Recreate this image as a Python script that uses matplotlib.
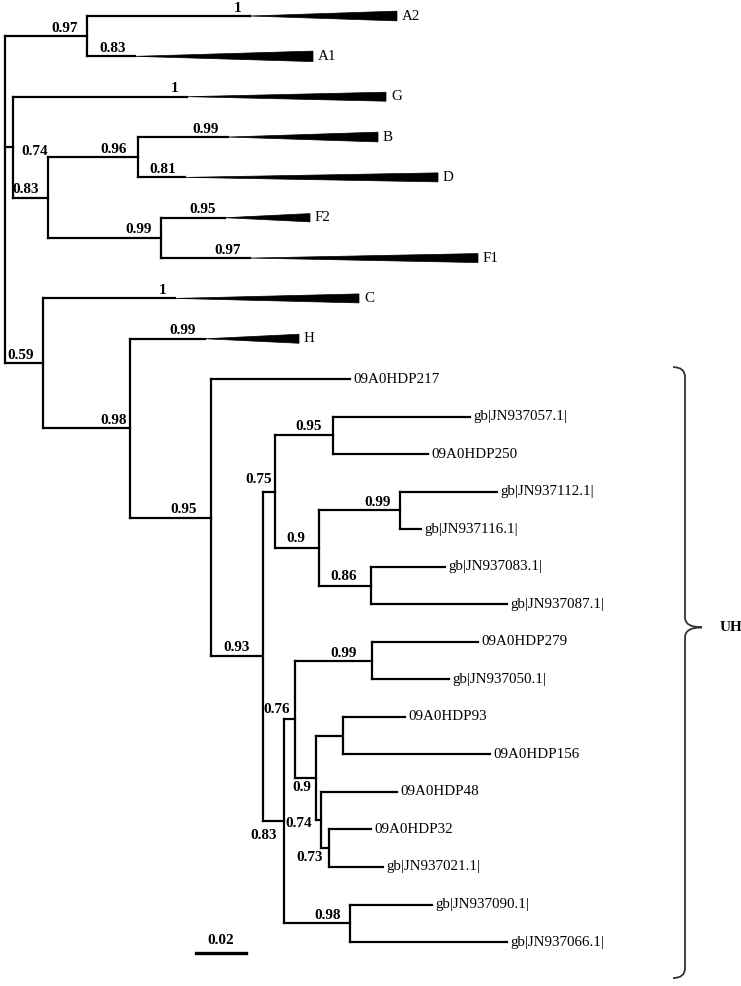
import matplotlib
matplotlib.use("Agg")
import matplotlib.pyplot as plt
from matplotlib.patches import Polygon, PathPatch
from matplotlib.path import Path

# ---- tree data (top-to-bottom order) ----
node_names = [
    "root", "nA", "A2", "A1", "nGBDF", "G", "nBDF", "nBD", "B", "D", "nF", "F2", "F1",
    "n059", "C", "n098", "H", "nUH", "09A0HDP217", "n093", "n075", "n095",
    "gb|JN937057.1|", "09A0HDP250", "n090", "n099a", "gb|JN937112.1|", "gb|JN937116.1|",
    "n086", "gb|JN937083.1|", "gb|JN937087.1|", "n083", "n076", "n099b", "09A0HDP279",
    "gb|JN937050.1|", "n09", "n93_156", "09A0HDP93", "09A0HDP156", "n074", "09A0HDP48",
    "n073", "09A0HDP32", "gb|JN937021.1|", "n098b", "gb|JN937090.1|", "gb|JN937066.1|",
]
node_parents = [
    None, "root", "nA", "nA", "root", "nGBDF", "nGBDF", "nBDF", "nBD", "nBD", "nBDF", "nF", "nF",
    "root", "n059", "n059", "n098", "n098", "nUH", "nUH", "n093", "n075",
    "n095", "n095", "n075", "n090", "n099a", "n099a",
    "n090", "n086", "n086", "n093", "n083", "n076", "n099b",
    "n099b", "n076", "n09", "n93_156", "n93_156", "n09", "n074",
    "n074", "n073", "n073", "n083", "n098b", "n098b",
]
branch_lengths = [
    0.0, 0.0328, 0.0652, 0.0192, 0.0032, 0.0696, 0.0140, 0.0360, 0.0360, 0.0188, 0.0452, 0.0256, 0.0356,
    0.0152, 0.0528, 0.0348, 0.0300, 0.0324, 0.0556, 0.0208, 0.0048, 0.0232,
    0.0548, 0.0380, 0.0176, 0.0324, 0.0388, 0.0084,
    0.0208, 0.0296, 0.0544, 0.0084, 0.0044, 0.0308, 0.0424,
    0.0308, 0.0084, 0.0108, 0.0248, 0.0588, 0.0020, 0.0304,
    0.0032, 0.0168, 0.0216, 0.0264, 0.0328, 0.0628,
]
supports = [
    "", "0.97", "1", "0.83", "0.74", "1", "0.83", "0.96", "0.99", "0.81", "0.99", "0.95", "0.97",
    "0.59", "1", "0.98", "0.99", "0.95", "", "0.93", "0.75", "0.95",
    "", "", "0.9", "0.99", "", "",
    "0.86", "", "", "0.83", "0.76", "0.99", "",
    "", "0.9", "", "", "", "0.74", "",
    "0.73", "", "", "0.98", "", "",
]

# collapsed clades: depth of triangle, half height (rows)
clade_names = ["A2", "A1", "G", "B", "D", "F2", "F1", "C", "H"]
clade_depths = [0.0588, 0.0712, 0.0796, 0.0600, 0.1012, 0.0340, 0.0912, 0.0736, 0.0376]
clade_halfwidths = [0.13, 0.14, 0.12, 0.13, 0.12, 0.11, 0.12, 0.12, 0.12]

bracket_label = "UH"
bracket_root = "nUH"
scale_length = 0.02

# ---- layout ----
PX_X = 0.0004          # tree units per pixel
PX_Y = 1 / 37.53       # rows per pixel
CLADE_ROW = 1.075      # rows taken by a collapsed clade

children = {n: [] for n in node_names}
for n, p in zip(node_names, node_parents):
    if p is not None:
        children[p].append(n)
blen = dict(zip(node_names, branch_lengths))
supp = dict(zip(node_names, supports))
clades = {c: (d, w) for c, d, w in zip(clade_names, clade_depths, clade_halfwidths)}

xpos, ypos = {}, {}
cursor = [0.0]


def layout(node, x):
    xpos[node] = x
    kids = children[node]
    if not kids:
        ypos[node] = cursor[0]
        cursor[0] += CLADE_ROW if node in clades else 1.0
        return
    for k in kids:
        layout(k, x + blen[k])
    ypos[node] = (ypos[kids[0]] + ypos[kids[-1]]) / 2


layout("root", 0.0)

fig = plt.figure(figsize=(7.41, 9.86), dpi=100)
ax = fig.add_axes([0, 0, 1, 1])
ax.set_xlim(-5 * PX_X, 736 * PX_X)
ax.set_ylim(970 * PX_Y, -16 * PX_Y)
ax.axis("off")

serif = "Liberation Serif"
lw = 1.6

for n, p in zip(node_names, node_parents):
    if p is not None:
        ax.plot([xpos[p], xpos[n]], [ypos[n], ypos[n]], color="black", lw=lw,
                solid_capstyle="projecting")
    kids = children[n]
    if kids:
        ax.plot([xpos[n], xpos[n]], [ypos[kids[0]], ypos[kids[-1]]], color="black", lw=lw,
                solid_capstyle="projecting")
    elif n in clades:
        depth, hw = clades[n]
        x0, y0 = xpos[n], ypos[n]
        tri = Polygon([(x0, y0), (x0 + depth, y0 - hw), (x0 + depth, y0 + hw)],
                      closed=True, facecolor="black", edgecolor="black", lw=0.5)
        ax.add_patch(tri)
        ax.annotate(n, (x0 + depth, y0), xytext=(5, 0), textcoords="offset pixels",
                    ha="left", va="center", fontsize=10.8, family=serif)
    else:
        ax.annotate(n, (xpos[n], ypos[n]), xytext=(3, 0), textcoords="offset pixels",
                    ha="left", va="center", fontsize=10.8, family=serif)

# support labels (pixel nudges relative to node)
nudge = {
    "nGBDF": (8, -4, "left"), "nBD": (-11, 8, "right"), "n098": (-3, 8, "right"),
    "nUH": (-14, 8, "right"), "n093": (-13, 9, "right"), "n075": (-3, 12, "right"),
    "n095": (-11, 9, "right"), "n090": (-14, 9, "right"), "n086": (-14, 9, "right"),
    "n099b": (-15, 7, "right"), "n076": (-5, 10, "right"), "n09": (-5, -10, "right"),
    "n074": (-9, -3, "right"), "n073": (-6, -9, "right"), "n083": (-7, -14, "right"),
}
for n in node_names:
    s = supp[n]
    if not s:
        continue
    dx, dy, ha = nudge.get(n, (-9, 8, "right"))
    ax.annotate(s, (xpos[n], ypos[n]), xytext=(dx, dy), textcoords="offset pixels",
                ha=ha, va="center", fontsize=11, fontweight="bold", family=serif)

# bracket around the UH clade


def leaves_of(node):
    if not children[node]:
        return [node]
    out = []
    for k in children[node]:
        out += leaves_of(k)
    return out


uh = leaves_of(bracket_root)
bx = 680 * PX_X
top = ypos[uh[0]] - 12 * PX_Y
bot = ypos[uh[-1]] + 36 * PX_Y
mid = top + 0.426 * (bot - top)
cx, cy = 12 * PX_X, 10 * PX_Y
verts = [
    (bx - cx, top), (bx, top), (bx, top + cy),
    (bx, mid - cy), (bx, mid), (bx + 17 * PX_X, mid),
    (bx, mid), (bx, mid + cy),
    (bx, bot - cy), (bx, bot), (bx - cx, bot),
]
codes = [Path.MOVETO, Path.CURVE3, Path.CURVE3,
         Path.LINETO, Path.CURVE3, Path.CURVE3,
         Path.CURVE3, Path.CURVE3,
         Path.LINETO, Path.CURVE3, Path.CURVE3]
ax.add_patch(PathPatch(Path(verts, codes), facecolor="none", edgecolor="#333333", lw=1.3))
ax.annotate(bracket_label, (bx + 17 * PX_X, mid), xytext=(18, 0), textcoords="offset pixels",
            ha="left", va="center", fontsize=11, fontweight="bold", family=serif)

# scale bar
sx = 191 * PX_X
sy = 937 * PX_Y
ax.plot([sx, sx + scale_length], [sy, sy], color="black", lw=2.4)
ax.annotate(f"{scale_length:g}", (sx + scale_length / 2, sy), xytext=(0, 12),
            textcoords="offset pixels", ha="center", va="center",
            fontsize=11, fontweight="bold", family=serif)

fig.savefig("out.png", dpi=100)
